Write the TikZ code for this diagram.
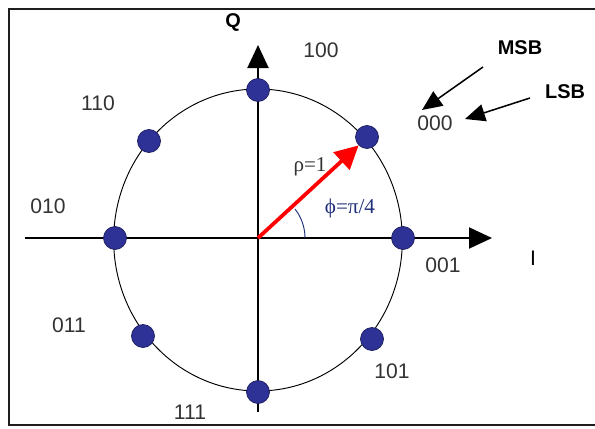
\documentclass[tikz,border=0pt]{standalone}
\usepackage{fontspec}
\setmainfont{Liberation Sans}
\newfontfamily\greekfont{Liberation Serif}
\usetikzlibrary{arrows.meta}
\definecolor{dotblue}{HTML}{2E3196}
\definecolor{dotedge}{HTML}{1B1D5E}
\definecolor{inkgrey}{HTML}{333333}
\definecolor{anglenavy}{HTML}{1F2F7A}
\definecolor{framegrey}{HTML}{1E1E1E}
\tikzset{
  sym/.style    ={circle, fill=dotblue, draw=dotedge, line width=0.6pt,
                  minimum size=0.69cm, inner sep=0pt},
  code/.style   ={font=\fontsize{18}{21}\selectfont, text=inkgrey, inner sep=1pt},
  axlbl/.style  ={font=\fontsize{17}{20}\selectfont\bfseries, text=black, inner sep=1pt},
  axis/.style   ={draw=black, line width=1.7pt, -{Triangle[length=6.9mm,width=6.3mm]}},
  ptr/.style    ={draw=black, line width=1.3pt, -{Triangle[length=6mm,width=5.2mm]}},
  vec/.style    ={draw=red, line width=3.2pt, -{Triangle[length=7mm,width=7mm]}},
}

\begin{document}
\begin{tikzpicture}
\useasboundingbox (-7.74,-5.70) rectangle (10.11,7.14);

% ---------------- frame ----------------
\draw[draw=framegrey, line width=1.5pt] (10.3,6.87) -- (-7.47,6.87) -- (-7.47,-5.61) -- (10.3,-5.61);

% ---------------- axes and circle ----------------
\coordinate (o) at (0,0);
\coordinate (iend) at (-6.99,0);
\coordinate (itip) at (7.02,0);
\coordinate (qend) at (0,-5.22);
\coordinate (qtip) at (0,5.79);
\draw[line width=0.8pt] (0,-0.06) ellipse [x radius=4.33cm, y radius=4.53cm];
\draw[axis] (iend) -- (itip);
\draw[axis] (qend) -- (qtip);

% ---------------- symbols ----------------
\node[sym] (d100) at ( 0.00, 4.44) {};
\node[sym] (d110) at (-3.27, 2.91) {};
\node[sym] (d010) at (-4.29, 0.00) {};
\node[sym] (d011) at (-3.45,-2.94) {};
\node[sym] (d111) at ( 0.00,-4.62) {};
\node[sym] (d101) at ( 3.42,-3.03) {};
\node[sym] (d001) at ( 4.35, 0.00) {};
\node[sym] (d000) at ( 3.27, 3.03) {};

% ---------------- bit labels ----------------
\node[code] (l100) at ( 1.89, 5.64) {100};
\node[code] (l110) at (-4.80, 4.05) {110};
\node[code] (l010) at (-6.30, 0.96) {010};
\node[code] (l011) at (-5.67,-2.61) {011};
\node[code] (l111) at (-2.04,-5.22) {111};
\node[code] (l101) at ( 4.02,-3.99) {101};
\node[code] (l001) at ( 5.55,-0.81) {001};
\node[code] (l000) at ( 5.31, 3.45) {000};

% ---------------- axis names ----------------
\node[axlbl] (qlbl) at (-0.75, 6.45) {Q};
\node[code, text=black] (ilbl) at (8.25,-0.60) {I};

% ---------------- vector and angle ----------------
\draw[vec] (o) -- (d000.south west);
\draw[anglenavy, line width=0.8pt] (1.41,0) arc [start angle=0, end angle=38, radius=1.41];
\node[code, font=\greekfont\fontsize{18}{21}\selectfont] (rho) at (1.56, 2.13) {ρ=1};
\node[code, font=\greekfont\fontsize{18}{21}\selectfont, text=anglenavy] (phi) at (2.76, 0.90) {ϕ=π/4};

% ---------------- MSB / LSB pointers ----------------
\node[axlbl] (msb) at (7.86, 5.70) {MSB};
\node[axlbl] (lsb) at (9.21, 4.38) {LSB};
\coordinate (msbtail) at (6.75, 5.13);
\coordinate (msbtip)  at (4.92, 3.84);
\coordinate (lsbtail) at (8.16, 4.20);
\coordinate (lsbtip)  at (6.21, 3.57);
\draw[ptr] (msbtail) -- (msbtip);
\draw[ptr] (lsbtail) -- (lsbtip);

\end{tikzpicture}
\end{document}
